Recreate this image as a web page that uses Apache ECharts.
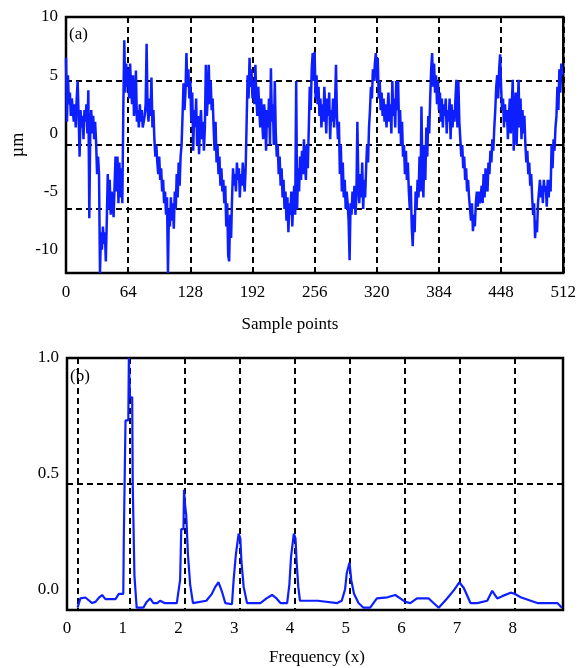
<!DOCTYPE html>
<html><head><meta charset="utf-8">
<script src="https://cdn.jsdelivr.net/npm/echarts@6/dist/echarts.min.js"></script>
<style>html,body{margin:0;padding:0;background:#fff}#c{width:579px;height:668px}</style>
</head><body><div id="c"></div>
<script>
// ---- panel (a): surface signal, 8 segments of 64 sample points ----
const segment1 = [6.5,1.0,5.0,2.5,3.5,1.5,3.0,2.0,1.0,2.5,0.5,3.0,4.5,1.5,-2.0,2.0,0.5,1.5,-0.5,2.0,1.0,2.5,0.0,3.7,-7.3,0.5,2.0,0.0,1.5,-0.5,1.0,-0.8,-3.5,-2.0,-3.5,-12.0,-8.5,-10.0,-8.0,-9.5,-8.5,-11.0,-7.5,-3.5,-6.5,-4.0,-7.0,-5.0,-6.0,-7.2,-4.5,-2.0,-5.0,-2.0,-6.0,-2.5,-5.5,-3.0,-6.0,2.0,8.0,3.5,6.0,4.0];
const segment2 = [5.5,3.0,6.0,4.0,2.5,5.0,1.5,2.5,5.4,1.0,2.0,0.5,2.5,1.0,2.0,0.5,1.0,1.5,2.5,7.7,2.0,1.0,3.0,1.5,4.8,0.5,2.0,-0.5,-2.0,-1.0,-2.5,-3.5,-2.0,-4.0,-3.0,-5.0,-4.0,-6.0,-5.0,-7.0,-5.5,-12.0,-6.5,-8.0,-5.5,-7.5,-6.0,-8.2,-5.0,-6.5,-3.5,-5.5,-2.5,-4.5,-2.0,-1.0,1.5,4.3,2.0,3.5,6.9,4.0,5.5,3.0];
const segment3 = [4.5,1.0,3.5,-1.5,2.0,0.5,3.0,-1.0,1.5,-1.8,0.5,2.0,-0.5,1.0,-1.5,0.5,5.9,1.5,3.0,5.9,2.5,4.5,2.0,3.0,0.5,-1.5,1.0,-2.5,-1.0,-3.5,-2.0,-4.5,-3.0,-5.0,-4.0,-6.0,-4.5,-8.0,-6.0,-10.5,-11.0,-7.0,-9.0,-5.5,-3.0,-4.5,-3.5,-5.0,-2.5,-4.0,-3.0,-5.5,-3.5,-4.5,-2.5,-4.0,-5.0,-3.0,1.0,5.0,3.0,6.5,4.0,5.5];
const segment4 = [3.0,4.5,2.5,5.9,3.0,1.5,4.0,2.0,0.5,3.0,1.0,-0.5,2.5,1.5,-1.5,2.0,0.5,3.0,-1.0,5.6,1.0,2.5,-1.0,4.5,0.0,-2.0,-1.0,-3.5,-2.0,-4.5,-3.0,-5.5,-4.0,-6.5,-5.0,-7.5,-5.5,-8.5,-6.0,-7.0,-5.0,-8.0,-6.0,-4.5,-7.0,4.5,-6.5,-3.0,-5.0,-2.0,-4.0,-1.5,-3.5,-0.5,-2.5,-4.0,-1.0,-3.0,0.5,4.0,2.0,5.5,6.9,4.5];
const segment5 = [7.0,3.0,5.0,2.5,4.0,1.5,3.0,0.5,2.5,1.0,4.0,2.0,0.0,3.0,1.5,3.5,-0.5,2.0,1.0,3.0,0.5,2.5,5.9,1.5,-0.5,1.0,-3.5,-1.0,-5.0,-2.5,-5.5,-4.0,-6.5,-5.0,-6.0,-7.5,-10.9,-6.0,-7.0,-5.0,-6.5,-4.5,-7.0,-5.5,1.0,-4.0,-6.0,-3.5,-5.5,-2.5,-6.5,-4.0,-5.5,-3.0,-1.0,-2.5,0.5,2.0,4.0,3.0,5.5,4.5,6.0,6.9];
const segment6 = [4.5,6.5,3.0,4.5,2.0,3.5,1.5,3.0,1.0,2.5,0.5,2.0,3.5,1.0,2.5,0.0,4.5,1.5,3.0,0.5,4.5,2.0,4.5,0.0,2.0,-1.0,1.0,-2.0,-1.0,-3.5,-1.5,-4.0,-2.5,-5.0,-6.5,-4.5,-8.0,-9.7,-7.0,-8.5,-5.0,-6.5,-4.0,-5.5,-2.0,-5.0,2.3,-3.5,-5.5,-1.0,-4.0,0.5,-2.0,1.5,0.0,3.0,5.5,6.9,4.0,6.0,3.5,5.0,2.5,4.5];
const segment7 = [2.0,3.5,1.0,3.0,0.5,2.5,1.5,3.0,0.0,2.0,1.0,3.0,-0.5,2.5,0.5,2.0,1.0,3.0,4.6,0.5,4.5,1.0,-0.5,-2.0,-1.0,-3.0,-2.0,-4.0,-3.0,-5.0,-4.0,-5.5,-6.5,-7.5,-6.0,-8.4,-7.0,-8.0,-6.0,-5.0,-6.3,-5.0,-6.0,-5.5,-4.5,-6.0,-3.5,-5.5,-3.0,-4.5,-5.0,-2.5,-3.5,-1.5,-2.5,-0.5,-1.5,0.5,2.0,4.0,5.0,3.0,5.5,6.8];
const segment8 = [4.0,2.0,3.0,0.5,2.5,1.0,2.0,-0.5,1.5,3.0,0.0,2.5,4.6,-1.5,1.0,3.5,-1.0,2.0,4.6,0.5,3.0,-0.5,2.0,0.0,1.5,-1.0,-2.5,-1.5,-3.5,-2.5,-4.5,-3.5,-5.5,-7.0,-6.0,-9.0,-7.5,-8.5,-6.0,-5.0,-4.0,-5.5,-4.5,-6.0,-4.0,-5.0,-4.5,-6.3,-4.0,-5.5,-4.0,-5.0,-1.0,-3.0,-0.5,-1.5,0.5,1.5,4.0,2.0,5.5,3.5,6.0,5.0];
const sampleMax = 512;
const sampleStep = 64;
const signalMin = -12, signalMax = 10;
const signalLabels = [-10, -5, 0, 5, 10];

// ---- panel (b): normalised spectrum ----
const freqX = [0.19,0.24,0.33,0.40,0.45,0.51,0.58,0.63,0.69,0.87,0.93,1.01,1.02,1.045,1.05,1.10,1.11,1.13,1.17,1.18,1.20,1.21,1.24,1.25,1.37,1.43,1.49,1.55,1.62,1.67,1.75,1.97,2.00,2.03,2.05,2.09,2.10,2.12,2.14,2.17,2.21,2.26,2.50,2.60,2.66,2.72,2.78,2.84,2.96,2.99,3.03,3.06,3.08,3.11,3.13,3.17,3.23,3.47,3.58,3.68,3.76,3.83,3.95,3.99,4.02,4.05,4.07,4.10,4.12,4.15,4.18,4.50,4.85,4.93,4.99,5.02,5.05,5.07,5.10,5.15,5.23,5.32,5.44,5.56,5.75,5.89,5.98,6.07,6.16,6.28,6.49,6.67,6.82,6.94,7.04,7.12,7.24,7.36,7.54,7.63,7.72,7.81,7.96,8.03,8.14,8.32,8.44,8.80,8.88];
const freqY = [-0.08,-0.04,-0.036,-0.05,-0.06,-0.055,-0.035,-0.025,-0.043,-0.043,-0.02,-0.02,0.23,0.23,0.73,0.73,1.0,0.83,0.83,0.45,0.45,0.06,0.06,-0.08,-0.08,-0.055,-0.04,-0.06,-0.06,-0.05,-0.06,-0.06,-0.06,0.04,0.26,0.26,0.43,0.36,0.32,0.15,0.02,-0.06,-0.05,-0.02,0.01,0.03,-0.01,-0.06,-0.065,0.04,0.15,0.15,0.24,0.22,0.12,0.01,-0.06,-0.06,-0.04,-0.025,-0.04,-0.06,-0.06,0.02,0.14,0.14,0.24,0.22,0.12,0.01,-0.05,-0.05,-0.06,-0.05,0.0,0.07,0.07,0.115,0.04,-0.02,-0.06,-0.08,-0.08,-0.04,-0.035,-0.025,-0.04,-0.055,-0.06,-0.04,-0.04,-0.08,-0.04,-0.005,0.03,0.005,-0.06,-0.06,-0.05,-0.007,-0.04,-0.03,-0.015,-0.02,-0.035,-0.05,-0.06,-0.06,-0.08];
const freqLabels = [0,1,2,3,4,5,6,7,8];
const freqGrid = [0.19,1.12,2.11,3.10,4.08,5.07,6.06,7.04,8.03];
const freqMax = 8.9;
const ampMin = -0.09, ampMax = 1.0;
const ampLabels = [0, 0.5, 1.0];

const signal = [].concat(segment1, segment2, segment3, segment4, segment5, segment6, segment7, segment8);
const signalData = signal.map((v, i) => [i, v]);
const spectrumData = freqX.map((x, i) => [x, freqY[i]]);

const FONT = 'Liberation Serif';
const txt = {color: '#000', fontFamily: FONT, fontSize: 17};
const dashed = {show: true, lineStyle: {color: '#000', width: 2, type: [6, 4]}};

const chart = echarts.init(document.getElementById('c'), null, {renderer: 'canvas'});
chart.setOption({
  animation: false,
  backgroundColor: '#fff',
  grid: [
    {left: 66, top: 17, width: 500, height: 256, show: true, borderColor: '#000', borderWidth: 2.5, backgroundColor: '#fff'},
    {left: 67, top: 358, width: 496, height: 252, show: true, borderColor: '#000', borderWidth: 2.5, backgroundColor: '#fff'}
  ],
  xAxis: [
    {gridIndex: 0, type: 'value', min: 0, max: sampleMax, interval: sampleStep,
     axisLine: {show: false}, axisTick: {show: false}, splitLine: dashed,
     axisLabel: Object.assign({margin: 11}, txt)},
    {gridIndex: 1, type: 'value', min: 0, max: freqMax,
     axisLine: {show: false}, axisTick: {show: false, customValues: freqGrid}, splitLine: dashed,
     axisLabel: Object.assign({margin: 10, customValues: freqLabels}, txt)}
  ],
  yAxis: [
    {gridIndex: 0, type: 'value', min: signalMin, max: signalMax, interval: (signalMax - signalMin) / 4,
     axisLine: {show: false}, axisTick: {show: false}, splitLine: dashed,
     axisLabel: Object.assign({margin: 8, customValues: signalLabels, formatter: v => String(Math.round(v))}, txt)},
    {gridIndex: 1, type: 'value', min: ampMin, max: ampMax, interval: (ampMax - ampMin) / 2,
     axisLine: {show: false}, axisTick: {show: false}, splitLine: dashed,
     axisLabel: Object.assign({margin: 8, customValues: ampLabels, formatter: v => Number(v).toFixed(1)}, txt)}
  ],
  series: [
    {type: 'line', xAxisIndex: 0, yAxisIndex: 0, data: signalData, step: 'end', symbol: 'none',
     lineStyle: {color: '#0d1fff', width: 2.5}, z: 5},
    {type: 'line', xAxisIndex: 1, yAxisIndex: 1, data: spectrumData, symbol: 'none',
     lineStyle: {color: '#0d1fff', width: 2.2}, z: 5}
  ],
  graphic: [
    {type: 'text', left: 69, top: 26, style: {text: '(a)', fill: '#000', font: '17px "Liberation Serif"'}},
    {type: 'text', left: 70, top: 368, style: {text: '(b)', fill: '#000', font: '17px "Liberation Serif"'}},
    {type: 'text', x: 290, y: 325, style: {text: 'Sample points', fill: '#000', font: '17px "Liberation Serif"', align: 'center', verticalAlign: 'middle'}},
    {type: 'text', x: 317, y: 658, style: {text: 'Frequency (x)', fill: '#000', font: '17px "Liberation Serif"', align: 'center', verticalAlign: 'middle'}},
    {type: 'text', x: 18, y: 145, rotation: Math.PI / 2, style: {text: 'µm', fill: '#000', font: '18px "Liberation Serif"', align: 'center', verticalAlign: 'middle'}}
  ]
});
</script>
</body></html>
